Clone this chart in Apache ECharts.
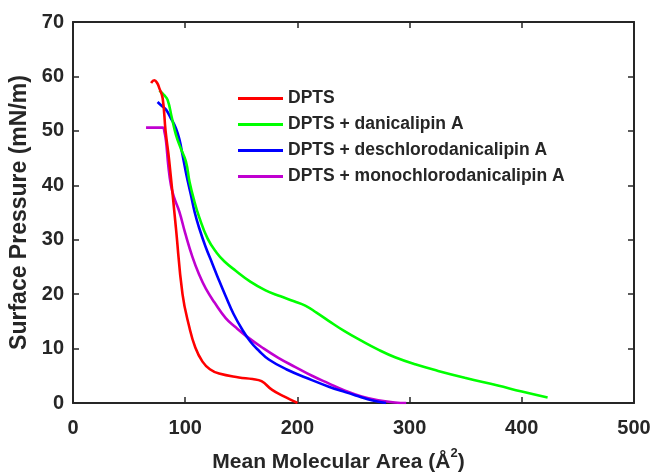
<!DOCTYPE html>
<html><head><meta charset="utf-8">
<script src="https://cdn.jsdelivr.net/npm/echarts@6/dist/echarts.min.js"></script>
<style>html,body{margin:0;padding:0;background:#fff}#c{width:654px;height:475px}</style>
</head><body><div id="c"></div>
<script>
const seriesNames = ['DPTS','DPTS + danicalipin A','DPTS + deschlorodanicalipin A','DPTS + monochlorodanicalipin A'];
const seriesColors = ['#ff0000','#00ff00','#0000ff','#c000d0'];
const dpts = [[69.6,58.8],[72.5,59.3],[75,58.8],[77,57.8],[79.9,56],[82.5,50],[85.8,44.4],[91.7,32.2],[97.6,20],[103.6,14],[109,10.2],[115.4,7.6],[122,6.2],[130.2,5.4],[147.9,4.7],[160,4.4],[168,4.0],[177.5,2.4],[188,1.2],[198.2,0.2],[200,0]];
const danicalipin = [[77,57.4],[81,56.6],[84.3,55.7],[88,52.5],[91.7,49.3],[96,46.8],[100.6,44.4],[104,40.5],[108,37.2],[112.4,34.2],[120,30.2],[128,27.6],[135,26.0],[145,24.3],[158,22.3],[171.6,20.7],[185,19.6],[197,18.7],[207,17.9],[217,16.6],[227.8,15.1],[242,13.2],[257.3,11.4],[272,9.8],[287,8.4],[305,7.1],[325.4,5.9],[350,4.6],[378.6,3.2],[400,2.1],[423,1.0]];
const deschloro = [[75.4,55.3],[79,54.6],[82.9,53.9],[87,52.4],[91.7,50.5],[95,48.3],[97.6,45.6],[101,42],[105,38.3],[108.5,35],[112.4,32.2],[118,28.8],[124.2,25.6],[130,22.6],[136.1,19.6],[143,16.4],[150.8,13.5],[158,11.3],[165.7,9.6],[174.5,8.0],[190,6.2],[213,4.2],[228,3.0],[242.6,2.0],[255,1.2],[266.2,0.5],[279,0]];
const monochloro = [[65.1,50.6],[72,50.6],[79.9,50.6],[81.5,49.8],[82.9,48.1],[85,43.5],[87.3,40],[90,37.8],[94.7,35.2],[100,31.2],[106.5,26.8],[112.4,23.6],[118.4,21],[126,18.5],[136.1,15.6],[145,13.9],[155,12.2],[168.6,10.2],[183,8.3],[198.2,6.6],[213,5.0],[227.8,3.6],[242,2.3],[257.3,1.2],[272,0.5],[287,0.1],[297,0]];
const xTicks = [0,100,200,300,400,500];
const yTicks = [0,10,20,30,40,50,60,70];

const seriesData = [dpts, danicalipin, deschloro, monochloro];
const txt = '#262626';
const font = 'Liberation Sans, Arial, sans-serif';
const axisLine = {show:true, onZero:false, lineStyle:{color:txt, width:2}};
const tick = {show:true, inside:true, length:6, lineStyle:{color:txt, width:1.5}};
const chart = echarts.init(document.getElementById('c'));
chart.setOption({
  animation:false,
  backgroundColor:'#fff',
  grid:{left:73, right:20, top:22, bottom:72, containLabel:false, outerBoundsMode:'none'},
  legend:{
    orient:'vertical', left:238, top:88, itemGap:5, padding:0,
    itemWidth:45, itemHeight:3, icon:'rect',
    data: seriesNames,
    textStyle:{fontFamily:font, fontWeight:'bold', fontSize:17.5, lineHeight:21, color:txt}
  },
  xAxis:[{
    type:'value', min:0, max:500, interval:100, position:'bottom',
    axisLine, axisTick:tick,
    axisLabel:{color:txt, fontFamily:font, fontWeight:'bold', fontSize:20, margin:15, formatter:v=>xTicks.includes(v)?String(v):''},
    splitLine:{show:false},
    name:'{a|Mean Molecular Area (Å}{s|2}{a|)}', nameLocation:'middle', nameGap:44,
    nameTextStyle:{padding:[0,30,0,0], rich:{
      a:{fontFamily:font, fontWeight:'bold', fontSize:21, color:txt, verticalAlign:'bottom', lineHeight:26},
      s:{fontFamily:font, fontWeight:'bold', fontSize:13, color:txt, verticalAlign:'top', lineHeight:26}
    }}
  },{
    type:'value', min:0, max:500, interval:100, position:'top',
    axisLine, axisTick:tick, axisLabel:{show:false}, splitLine:{show:false}
  }],
  yAxis:[{
    type:'value', min:0, max:70, interval:10, position:'left',
    axisLine, axisTick:tick,
    axisLabel:{color:txt, fontFamily:font, fontWeight:'bold', fontSize:20, margin:9, formatter:v=>yTicks.includes(v)?String(v):''},
    splitLine:{show:false},
    name:'Surface Pressure (mN/m)', nameLocation:'middle', nameGap:34, nameRotate:90,
    nameTextStyle:{fontFamily:font, fontWeight:'bold', fontSize:23, color:txt}
  },{
    type:'value', min:0, max:70, interval:10, position:'right',
    axisLine, axisTick:tick, axisLabel:{show:false}, splitLine:{show:false}
  }],
  series: seriesNames.map((n,i)=>({
    name:n, type:'line', data:seriesData[i], smooth:0.45, showSymbol:false, symbol:'none',
    lineStyle:{color:seriesColors[i], width:2.6}, itemStyle:{color:seriesColors[i]}, z:5-i
  }))
});
</script></body></html>
